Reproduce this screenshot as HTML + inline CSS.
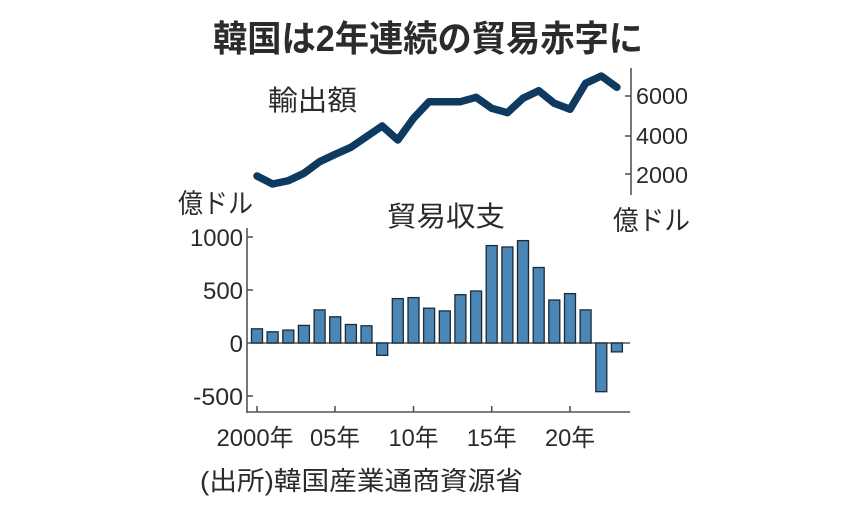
<!DOCTYPE html>
<html><head><meta charset="utf-8"><style>
html,body{margin:0;padding:0;background:#fff}
svg{display:block}
text{font-family:"Liberation Sans","Noto Sans CJK JP",sans-serif;fill:#2b2b2b}
</style></head><body>
<svg width="860" height="508" viewBox="0 0 860 508" xmlns="http://www.w3.org/2000/svg">
<text x="428" y="51" text-anchor="middle" font-size="36" font-weight="bold" textLength="430" lengthAdjust="spacingAndGlyphs" fill="#222">韓国は2年連続の貿易赤字に</text>
<text x="268" y="110" font-size="28" textLength="89" lengthAdjust="spacingAndGlyphs">輸出額</text>
<text x="178" y="213" font-size="27" textLength="75" lengthAdjust="spacingAndGlyphs">億ドル</text>
<text x="387" y="226" font-size="28" textLength="118" lengthAdjust="spacingAndGlyphs">貿易収支</text>
<text x="613" y="230" font-size="27" textLength="77" lengthAdjust="spacingAndGlyphs">億ドル</text>
<!-- right axis -->
<g stroke="#555" stroke-width="1.6">
<line x1="631" y1="68" x2="631" y2="195"/>
<line x1="625" y1="96" x2="631" y2="96"/>
<line x1="625" y1="136" x2="631" y2="136"/>
<line x1="625" y1="174" x2="631" y2="174"/>
</g>
<g font-size="23">
<text x="636" y="104" textLength="52" lengthAdjust="spacingAndGlyphs">6000</text>
<text x="636" y="144" textLength="52" lengthAdjust="spacingAndGlyphs">4000</text>
<text x="636" y="183" textLength="52" lengthAdjust="spacingAndGlyphs">2000</text>
</g>
<polyline fill="none" stroke="#0e3a60" stroke-width="7.5" stroke-linejoin="round" stroke-linecap="round"
points="257,176 272.6,184 288.3,180.7 303.9,173.3 319.6,161.7 335.2,154.3 350.9,147.3 366.5,136.7 382.2,126 397.8,140 413.5,118.3 429.1,101.7 444.8,101.7 460.4,101.7 476.1,97.3 491.7,108.3 507.4,112.7 523,98.3 538.7,90.7 554.3,103.3 570,109.3 585.6,83.3 601.3,76 616.9,87.3"/>
<!-- bar chart axes -->
<g stroke="#555" stroke-width="1.6">
<line x1="247" y1="228" x2="247" y2="413"/>
<line x1="247" y1="237" x2="253" y2="237"/>
<line x1="247" y1="290" x2="253" y2="290"/>
<line x1="247" y1="396" x2="253" y2="396"/>
<line x1="247" y1="412" x2="630" y2="412"/>
<line x1="247" y1="343" x2="630" y2="343"/>
<line x1="257" y1="406" x2="257" y2="412"/>
<line x1="335" y1="406" x2="335" y2="412"/>
<line x1="413.5" y1="406" x2="413.5" y2="412"/>
<line x1="491.7" y1="406" x2="491.7" y2="412"/>
<line x1="570" y1="406" x2="570" y2="412"/>
</g>
<g font-size="24" text-anchor="end">
<text x="243" y="246" textLength="53" lengthAdjust="spacingAndGlyphs">1000</text>
<text x="243" y="299" textLength="40" lengthAdjust="spacingAndGlyphs">500</text>
<text x="243" y="352">0</text>
<text x="243" y="405" textLength="50" lengthAdjust="spacingAndGlyphs">-500</text>
</g>
<g fill="#4a86b6" stroke="#1e2a36" stroke-width="1.3">
<rect x="251.5" y="328.8" width="11" height="14.2"/>
<rect x="267.1" y="331.8" width="11" height="11.2"/>
<rect x="282.8" y="330.1" width="11" height="12.9"/>
<rect x="298.4" y="325.4" width="11" height="17.6"/>
<rect x="314.1" y="309.9" width="11" height="33.1"/>
<rect x="329.7" y="316.8" width="11" height="26.2"/>
<rect x="345.4" y="324.5" width="11" height="18.5"/>
<rect x="361" y="325.8" width="11" height="17.2"/>
<rect x="376.7" y="343" width="11" height="12.3"/>
<rect x="392.3" y="298.6" width="11" height="44.4"/>
<rect x="408" y="297.6" width="11" height="45.4"/>
<rect x="423.6" y="308.2" width="11" height="34.8"/>
<rect x="439.3" y="310.9" width="11" height="32.1"/>
<rect x="454.9" y="294.7" width="11" height="48.3"/>
<rect x="470.6" y="291" width="11" height="52"/>
<rect x="486.2" y="245.6" width="11" height="97.4"/>
<rect x="501.9" y="247" width="11" height="96"/>
<rect x="517.5" y="240.6" width="11" height="102.4"/>
<rect x="533.2" y="267.5" width="11" height="75.5"/>
<rect x="548.8" y="300" width="11" height="43"/>
<rect x="564.5" y="293.6" width="11" height="49.4"/>
<rect x="580.1" y="309.9" width="11" height="33.1"/>
<rect x="595.8" y="343" width="11" height="48.7"/>
<rect x="611.4" y="343" width="11" height="8.9"/>
</g>
<g font-size="24" text-anchor="middle">
<text x="255" y="446" textLength="77" lengthAdjust="spacingAndGlyphs">2000年</text>
<text x="335" y="446" textLength="50" lengthAdjust="spacingAndGlyphs">05年</text>
<text x="413.5" y="446" textLength="50" lengthAdjust="spacingAndGlyphs">10年</text>
<text x="491.7" y="446" textLength="50" lengthAdjust="spacingAndGlyphs">15年</text>
<text x="570" y="446" textLength="50" lengthAdjust="spacingAndGlyphs">20年</text>
</g>
<text x="200" y="490" font-size="26" textLength="323" lengthAdjust="spacingAndGlyphs">(出所)韓国産業通商資源省</text>
</svg>
</body></html>
